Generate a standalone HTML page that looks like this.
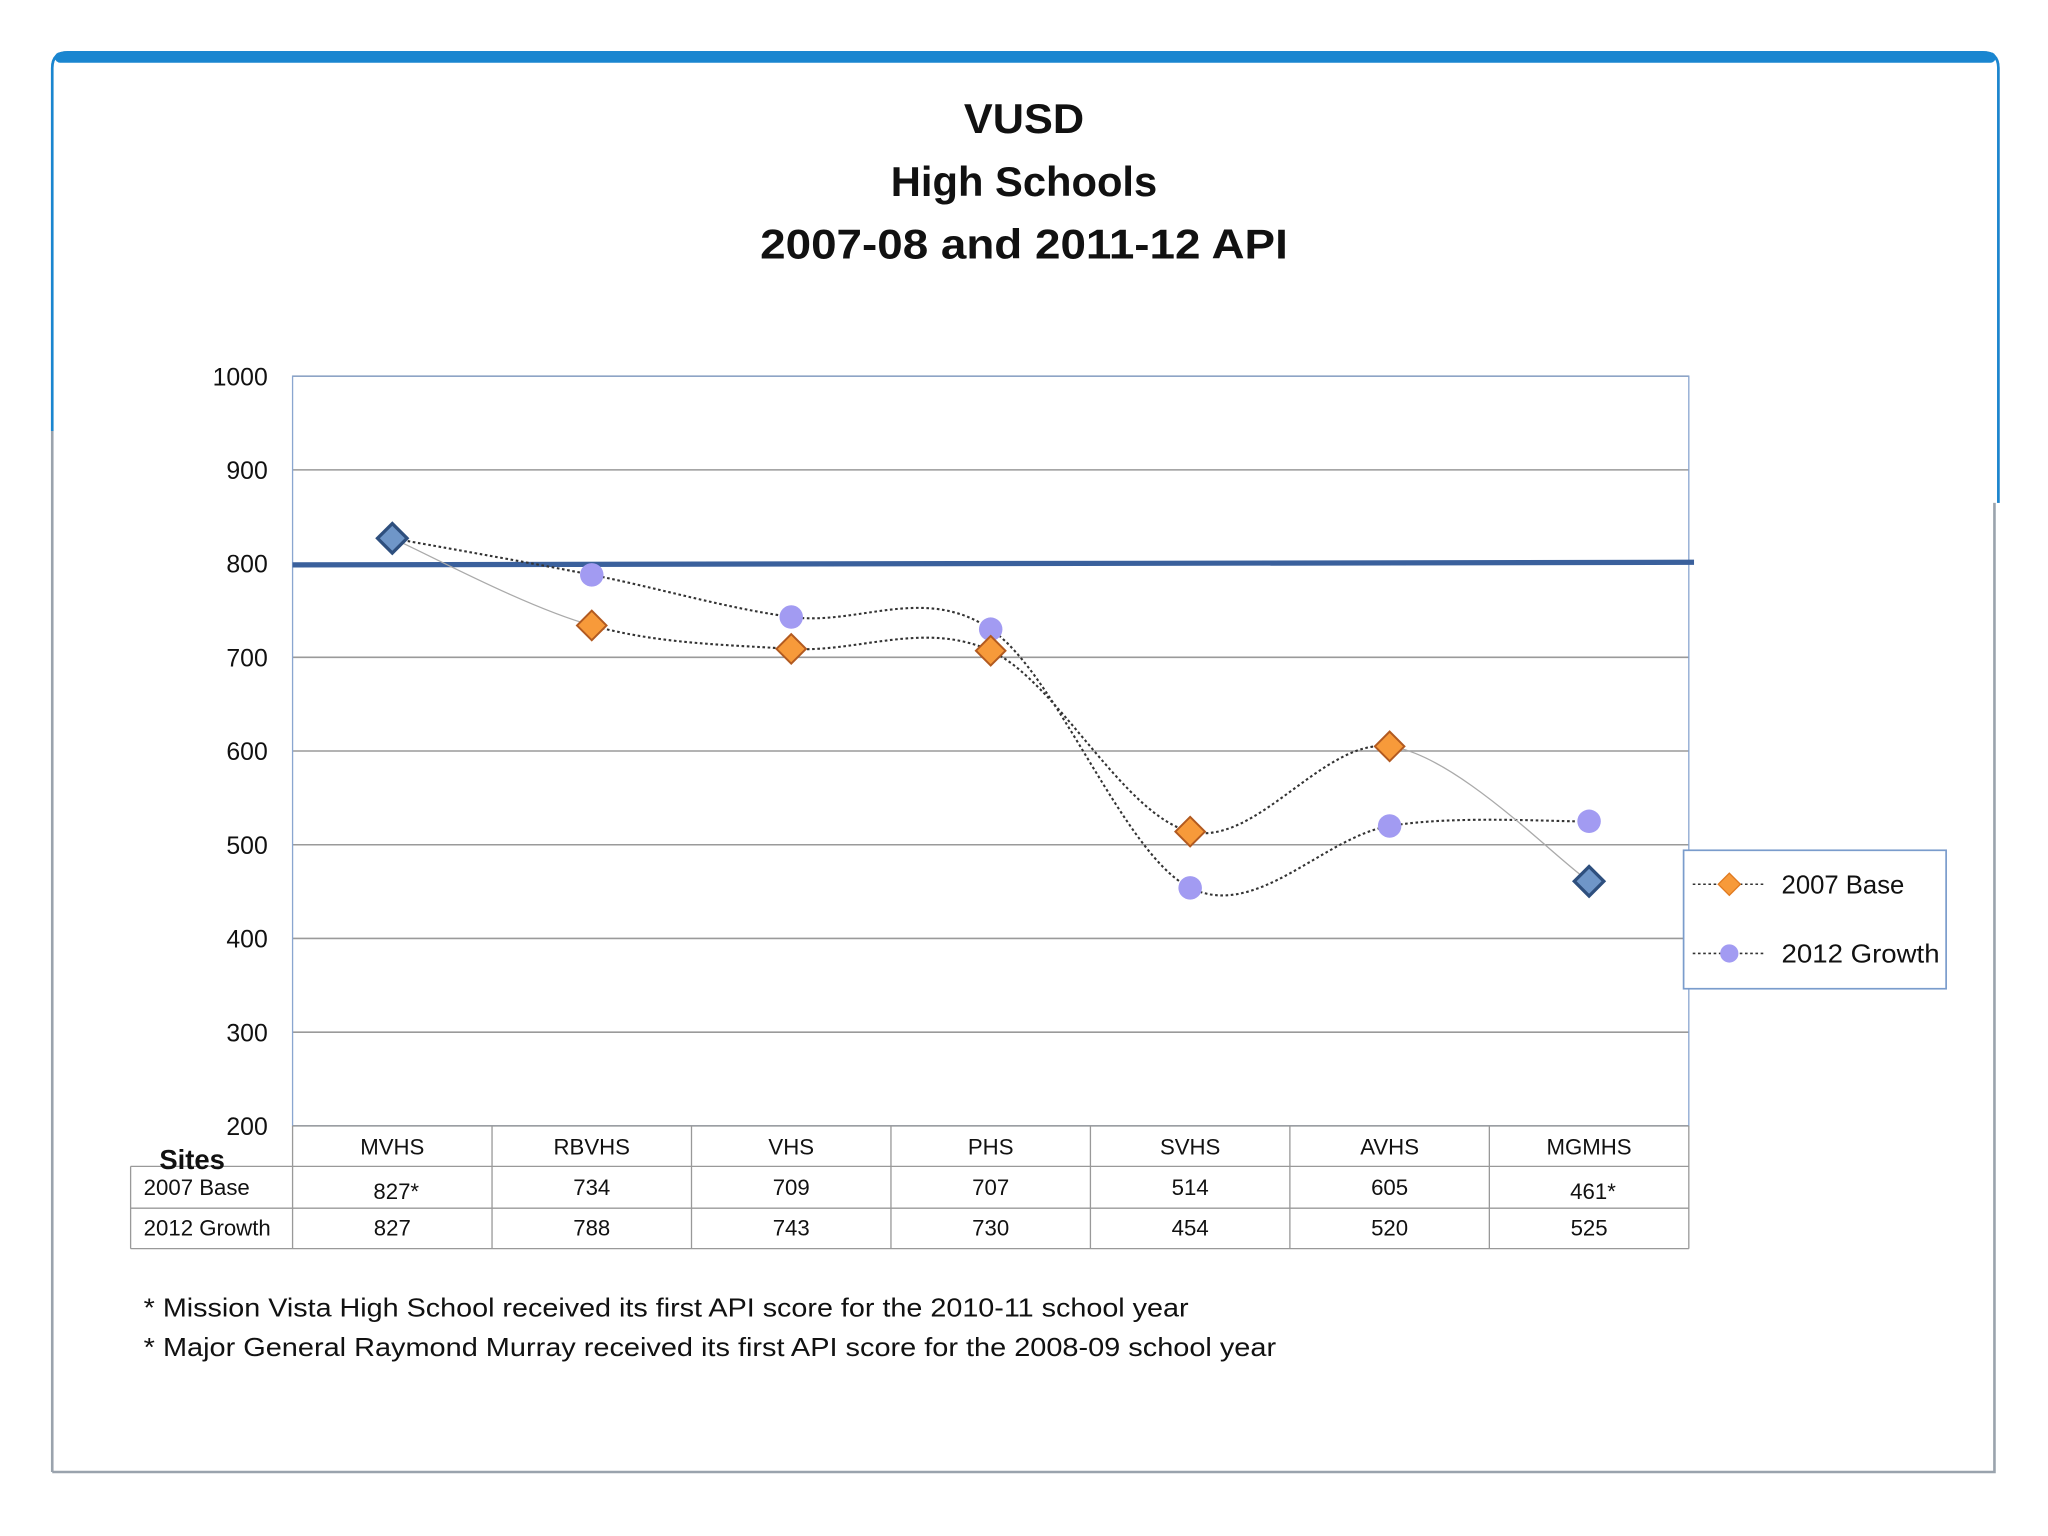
<!DOCTYPE html>
<html><head><meta charset="utf-8"><style>
html,body{margin:0;padding:0;background:#fff;}
svg{display:block;}
text{font-family:"Liberation Sans",sans-serif;fill:#111;}
</style></head><body>
<svg id="chart" width="2048" height="1536" viewBox="0 0 1568 1176" xmlns="http://www.w3.org/2000/svg">
<rect x="0" y="0" width="1568" height="1176" fill="#fff"/>
<g>
<path d="M40 1127 V52 Q40 40 52 40 H1518 Q1530 40 1530 52 V385" fill="none" stroke="#9aa3ad" stroke-width="2"/>
<path d="M40 330 V52 Q40 40 52 40 H1518 Q1530 40 1530 52 V385" fill="none" stroke="#1a86d0" stroke-width="2"/>
<rect x="42" y="40" width="1486" height="8" rx="4" fill="#1a86d0"/>
<path d="M1527 385 V1127 H40" fill="none" stroke="#9aa3ad" stroke-width="2"/>
</g>
<g font-weight="bold" text-anchor="middle" font-size="32">
<text x="784" y="102" textLength="92" lengthAdjust="spacingAndGlyphs">VUSD</text>
<text x="784" y="150" textLength="204" lengthAdjust="spacingAndGlyphs">High Schools</text>
<text x="784" y="198" textLength="404" lengthAdjust="spacingAndGlyphs">2007-08 and 2011-12 API</text>
</g>
<g id="grid"></g>
<g id="marks"></g>
<g id="table"></g>
<g>
<rect x="1289" y="651" width="201" height="106" fill="#fff" stroke="#7a9ccc" stroke-width="1.3"/>
<line x1="1296" y1="677" x2="1352" y2="677" stroke="#333" stroke-width="1.2" stroke-dasharray="2,2"/>
<rect x="1318" y="671" width="12" height="12" fill="#f79a3a" stroke="#e07a20" transform="rotate(45 1324 677)"/>
<text x="1364" y="684" font-size="20" textLength="94" lengthAdjust="spacingAndGlyphs">2007 Base</text>
<line x1="1296" y1="730" x2="1352" y2="730" stroke="#333" stroke-width="1.2" stroke-dasharray="2,2"/>
<circle cx="1324" cy="730" r="7" fill="#a29bf2"/>
<text x="1364" y="737" font-size="20" textLength="121" lengthAdjust="spacingAndGlyphs">2012 Growth</text>
</g>
<g font-size="20">
<text x="110" y="1008" textLength="800" lengthAdjust="spacingAndGlyphs">* Mission Vista High School received its  first API score for the 2010-11 school year</text>
<text x="110" y="1038" textLength="867" lengthAdjust="spacingAndGlyphs">* Major General Raymond Murray received its  first API score for the 2008-09 school year</text>
</g>
</svg>
<script>
const categories = ["MVHS","RBVHS","VHS","PHS","SVHS","AVHS","MGMHS"];
const base2007 = [827,734,709,707,514,605,461];
const growth2012 = [827,788,743,730,454,520,525];
const baseLabels = ["827*","734","709","707","514","605","461*"];
const growthLabels = ["827","788","743","730","454","520","525"];
const yTicks = [200,300,400,500,600,700,800,900,1000];
const targetLine = 800;

const NS="http://www.w3.org/2000/svg";
const L=224,R=1293,T=288,B=862,yMin=200,yMax=1000;
const colW=(R-L)/categories.length;
const xs=i=>L+colW*(i+0.5);
const ys=v=>B-(v-yMin)/(yMax-yMin)*(B-T);
function mk(tag,attrs,parent){const e=document.createElementNS(NS,tag);for(const k in attrs)e.setAttribute(k,attrs[k]);parent.appendChild(e);return e;}
const grid=document.getElementById('grid'),marks=document.getElementById('marks'),table=document.getElementById('table');

yTicks.forEach(t=>{
  const y=ys(t);
  const ln=mk('line',{x1:L,x2:R,y1:y,y2:y,stroke:'#9a9a9a','stroke-width':1.2},grid);
  
  
  const tx=mk('text',{x:205,y:y+7,'text-anchor':'end','font-size':19},grid);
  tx.textContent=t;
  
  
});
const pb=mk('rect',{x:L,y:T,width:R-L,height:B-T,fill:'none',stroke:'#8aa6d0','stroke-width':1},grid);



const tl=mk('line',{x1:L,x2:R+4,y1:ys(targetLine)+1,y2:ys(targetLine)-1,stroke:'#3a609c','stroke-width':4},marks);



function seg(vals,i){
  const p=j=>[xs(Math.max(0,Math.min(vals.length-1,j))),ys(vals[Math.max(0,Math.min(vals.length-1,j))])];
  const p0=p(i-1),p1=p(i),p2=p(i+1),p3=p(i+2),k=1/6;
  const c1=[p1[0]+(p2[0]-p0[0])*k,p1[1]+(p2[1]-p0[1])*k];
  const c2=[p2[0]-(p3[0]-p1[0])*k,p2[1]-(p3[1]-p1[1])*k];
  return `M${p1[0]},${p1[1]} C${c1[0]},${c1[1]} ${c2[0]},${c2[1]} ${p2[0]},${p2[1]}`;
}
function drawSeries(vals,name,lightSegs){
  for(let i=0;i<vals.length-1;i++){
    const light=lightSegs.includes(i);
    const s=mk('path',{d:seg(vals,i),fill:'none',stroke:light?'#aaa':'#333','stroke-width':light?1:1.6,'stroke-dasharray':light?'none':'2,2'},marks);
    
    
  }
}
drawSeries(growth2012,'growth-line',[]);
drawSeries(base2007,'base-line',[0,5]);

growth2012.forEach((v,i)=>{
  if(i===0)return;
  const c=mk('circle',{cx:xs(i),cy:ys(v),r:9,fill:'#a29bf2'},marks);
  
  
});
base2007.forEach((v,i)=>{
  const first=(i===0||i===base2007.length-1);
  const x=xs(i),y=ys(v);
  const d=mk('rect',{x:x-8,y:y-8,width:16,height:16,fill:first?'#6f96c8':'#f79a3a',stroke:first?'#2e4f7e':'#b25a20','stroke-width':first?2.5:1.5,transform:`rotate(45 ${x} ${y})`},marks);
  
  
});

mk('line',{x1:L,x2:R,y1:B,y2:B,stroke:'#999'},table);
[893,925,956].forEach(y=>mk('line',{x1:100,x2:R,y1:y,y2:y,stroke:'#999'},table));
mk('line',{x1:100,x2:100,y1:893,y2:956,stroke:'#999'},table);
for(let i=0;i<=categories.length;i++){mk('line',{x1:L+colW*i,x2:L+colW*i,y1:B,y2:956,stroke:'#999'},table);}
const st=mk('text',{x:122,y:895,'font-size':21,'font-weight':'bold'},table);
st.textContent='Sites';


const r1=mk('text',{x:110,y:915,'font-size':17},table);r1.textContent='2007 Base';


const r2=mk('text',{x:110,y:946,'font-size':17},table);r2.textContent='2012 Growth';


categories.forEach((c,i)=>{
  const a=mk('text',{x:xs(i),y:884,'text-anchor':'middle','font-size':17},table);a.textContent=c;
  
  
  const star=baseLabels[i].includes('*');
  const b=mk('text',{x:xs(i)+(star?3:0),y:star?918:915,'text-anchor':'middle','font-size':17},table);b.textContent=baseLabels[i];
  
  
  const g=mk('text',{x:xs(i),y:946,'text-anchor':'middle','font-size':17},table);g.textContent=growthLabels[i];
  
  
});
</script>
</body></html>
